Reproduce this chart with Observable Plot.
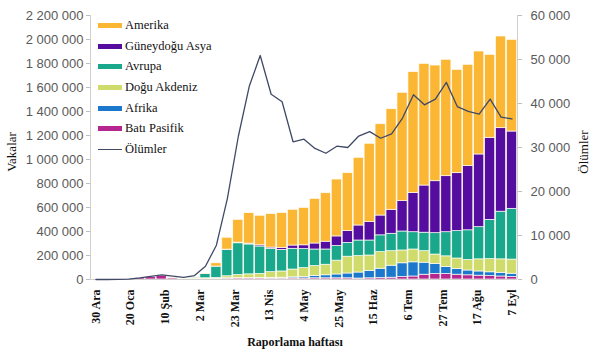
<!DOCTYPE html>
<html><head><meta charset="utf-8">
<script src="https://cdn.jsdelivr.net/npm/d3@7"></script>
<script src="https://cdn.jsdelivr.net/npm/@observablehq/plot@0.6"></script>
<style>
html,body{margin:0;padding:0;background:#fff;}
#wrap{position:relative;width:605px;height:362px;overflow:hidden;font-family:"Liberation Serif","Times New Roman",serif;}
#wrap svg{position:absolute;left:0;top:0;}
#wrap g[aria-label="y-axis tick"]{stroke:#bfbfbf;}
#wrap g[aria-label="x-axis tick label"] text{font-weight:bold;}
.legend{position:absolute;left:98px;top:15px;}
.item{height:20.7px;display:flex;align-items:center;font-size:12.5px;color:#111;white-space:nowrap;}
.sw{width:24px;height:5px;margin-right:3px;flex:none;}
.ln{width:24px;height:1.3px;margin-right:3px;flex:none;}
.title{position:absolute;font-size:13px;color:#111;white-space:nowrap;transform:translate(-50%,-50%) rotate(-90deg);}
.xtitle{position:absolute;font-size:12px;font-weight:bold;color:#111;white-space:nowrap;transform:translate(-50%,-50%);}
</style></head><body><div id="wrap"></div>
<script>
// Reporting weeks (week start dates)
const weekStarts = ["2019-12-30","2020-01-06","2020-01-13","2020-01-20","2020-01-27","2020-02-03","2020-02-10","2020-02-17","2020-02-24","2020-03-02","2020-03-09","2020-03-16","2020-03-23","2020-03-30","2020-04-06","2020-04-13","2020-04-20","2020-04-27","2020-05-04","2020-05-11","2020-05-18","2020-05-25","2020-06-01","2020-06-08","2020-06-15","2020-06-22","2020-06-29","2020-07-06","2020-07-13","2020-07-20","2020-07-27","2020-08-03","2020-08-10","2020-08-17","2020-08-24","2020-08-31","2020-09-07","2020-09-14","2020-09-21"];
const tickLabels = ["30 Ara","20 Oca","10 Şub","2 Mar","23 Mar","13 Nis","4 May","25 May","15 Haz","6 Tem","27 Tem","17 Ağu","7 Eyl"];

// Weekly cases by region (thousands)
const batiPasifik = [0.05,0.01,0.2,1.7,12.5,21,30,10,5,6,4,4,8,9,9,9,8,8,9,9,10,10,10,10,8,10,12,15,20,25,40,45,45,40,35,32,28,25,20];
const afrika = [0,0,0,0,0,0,0,0,0,0.01,0.1,0.5,2,3,4,5,6,7,9,11,20,25,32,40,50,62,78,100,115,118,100,85,60,48,40,35,32,30,28];
const doguAkdeniz = [0,0,0,0,0,0,0,0,0.6,5.5,6,8,17,25,30,33,47,52,65,75,82,88,115,140,137,128,138,121,107,107,96,78,88,87,88,101,110,113,118];
const avrupa = [0,0,0,0,0.01,0.02,0.01,0.05,1.1,6.5,36,95,220,265,249,228,195,180,173,158,138,127,122,115,130,125,140,145,158,144,154,178,201,228,247,268,327,397,423];
const guneydoguAsya = [0,0,0,0,0,0.01,0,0,0,0.03,0.2,0.5,2,5,7,10,10,17,27,32,50,65,80,98,125,153,165,200,253,326,393,433,467,483,535,606,684,696,644];
const amerika = [0,0,0,0,0,0,0,0,0.02,0.3,3.7,27,99,190,254,246,279,289,298,312,372,404,474,483,564,653,761,838,903,1008,1014,964,970,861,844,858,691,764,764];
// Weekly global deaths (thousands)
const olumler = [0,0,0.01,0.1,0.35,0.7,1.05,0.75,0.5,0.9,3.0,7.8,18.4,32.5,43.9,50.9,42.1,40.4,31.3,31.9,29.8,28.7,30.3,30.0,32.6,33.6,32.1,33.1,36.7,42.0,39.7,41.0,44.8,39.3,38.2,37.6,41.0,36.9,36.5];

const caseTicks = [0,200000,400000,600000,800000,1000000,1200000,1400000,1600000,1800000,2000000,2200000];
const deathTicks = [0,10000,20000,30000,40000,50000,60000];

// stacking order bottom -> top
const regions = ["Batı Pasifik","Afrika","Doğu Akdeniz","Avrupa","Güneydoğu Asya","Amerika"];
const regionSeries = [batiPasifik, afrika, doguAkdeniz, avrupa, guneydoguAsya, amerika];
const regionColors = ["#b5268f","#1c78cc","#cfdc6b","#1aa88c","#540d9e","#fbb634"];

const fmt = v => d3.format(",")(v).replace(/,/g, " ");
const caseMax = caseTicks[caseTicks.length - 1];
const deathMax = deathTicks[deathTicks.length - 1];
const ratio = caseMax / deathMax;
const nWeeks = weekStarts.length;

const table = [];
regionSeries.forEach((s, j) => s.forEach((v, i) => { if (v > 0) table.push({week: i, region: regions[j], value: v * 1000}); }));
const deathRows = olumler.map((v, i) => ({week: i, deaths: v * 1000}));

// tick labels spread evenly from first to last week (as in the source figure)
const tickPos = tickLabels.map((t, k) => 0.5 + k * (nWeeks - 1) / (tickLabels.length - 1));
const labelAt = new Map(tickPos.map((p, k) => [p, tickLabels[k]]));

const chart = Plot.plot({
  width: 605, height: 362,
  marginLeft: 90, marginRight: 88, marginTop: 15, marginBottom: 83,
  x: {type: "linear", domain: [0, nWeeks], axis: null},
  y: {domain: [0, caseMax], axis: null},
  color: {domain: regions, range: regionColors},
  style: {fontFamily: "'Liberation Sans', Arial, sans-serif", fontSize: "13px", background: "white", overflow: "visible"},
  marks: [
    Plot.rectY(table, {x1: "week", x2: d => d.week + 1, y: "value", fill: "region", stroke: "#fffdf5", strokeWidth: 0.7, insetLeft: 0.4, insetRight: 0.4}),
    Plot.ruleX([0, nWeeks], {stroke: "#d0d0d0"}),
    Plot.ruleY([0], {stroke: "#d0d0d0"}),
    Plot.line(deathRows, {x: d => d.week + 0.5, y: d => d.deaths * ratio, stroke: "#404a66", strokeWidth: 1.3}),
    Plot.axisY(caseTicks, {anchor: "left", tickFormat: fmt, tickSize: 4, tickPadding: 3, color: "#595959", label: null, fontSize: 13}),
    Plot.axisY(deathTicks.map(v => v * ratio), {anchor: "right", tickFormat: d => fmt(Math.round(d / ratio)), tickSize: 4, tickPadding: 9, color: "#595959", label: null, fontSize: 13}),
    Plot.axisX(tickPos, {anchor: "bottom", tickFormat: d => labelAt.get(d), tickSize: 0, tickPadding: 10, tickRotate: -90, color: "#111", label: null, fontFamily: "'Liberation Serif', 'Times New Roman', serif", fontSize: 12, fontWeight: "bold"})
  ]
});

const wrap = document.getElementById("wrap");
wrap.appendChild(chart);

// legend (top item = Amerika)
const legend = document.createElement("div");
legend.className = "legend";
const legendOrder = regions.slice().reverse();
legendOrder.forEach(r => {
  const it = document.createElement("div"); it.className = "item";
  const sw = document.createElement("span"); sw.className = "sw"; sw.style.background = regionColors[regions.indexOf(r)];
  it.appendChild(sw); it.appendChild(document.createTextNode(r)); legend.appendChild(it);
});
{
  const it = document.createElement("div"); it.className = "item";
  const ln = document.createElement("span"); ln.className = "ln"; ln.style.background = "#404a66";
  it.appendChild(ln); it.appendChild(document.createTextNode("Ölümler")); legend.appendChild(it);
}
wrap.appendChild(legend);

function addTitle(text, cls, x, y) {
  const d = document.createElement("div"); d.className = cls; d.textContent = text;
  d.style.left = x + "px"; d.style.top = y + "px"; wrap.appendChild(d);
}
addTitle("Vakalar", "title", 12, 152);
addTitle("Ölümler", "title", 584, 152);
addTitle("Raporlama haftası", "xtitle", 295, 342);
</script>
</body></html>
